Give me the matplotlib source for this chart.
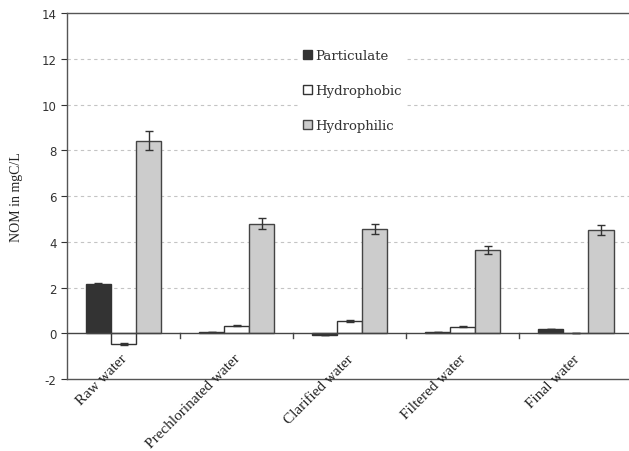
import numpy as np
import matplotlib.pyplot as plt

plt.rcParams["axes.unicode_minus"] = False

categories = ["Raw water", "Prechlorinated water", "Clarified water", "Filtered water", "Final water"]
particulate = [2.14, 0.06, -0.05, 0.07, 0.19]
particulate_err = [0.07, 0.0, 0.0, 0.0, 0.0]
hydrophobic = [-0.46, 0.34, 0.54, 0.29, 0.03]
hydrophobic_err = [0.03, 0.03, 0.03, 0.03, 0.0]
hydrophilic = [8.42, 4.8, 4.55, 3.64, 4.52]
hydrophilic_err = [0.42, 0.25, 0.22, 0.18, 0.22]

fig = plt.figure(figsize=(6.29, 4.52), dpi=100)
ax = fig.add_axes([0.1065, 0.159, 0.899, 0.81])

x = np.arange(len(categories))
w = 0.222
ek = dict(ecolor="#333333", elinewidth=1, capsize=3, capthick=1)
ax.bar(x - w, particulate, w, yerr=particulate_err, color="#333333",
       edgecolor="#333333", linewidth=1, label="Particulate", error_kw=ek, zorder=3)
ax.bar(x, hydrophobic, w, yerr=hydrophobic_err, color="white",
       edgecolor="#333333", linewidth=1, label="Hydrophobic", error_kw=ek, zorder=3)
ax.bar(x + w, hydrophilic, w, yerr=hydrophilic_err, color="#cccccc",
       edgecolor="#444444", linewidth=1, label="Hydrophilic", error_kw=ek, zorder=3)

ax.set_xlim(-0.5, len(categories) - 0.5)
ax.set_ylim(-2, 14)
ax.set_yticks(range(-2, 15, 2))
ax.tick_params(axis="y", direction="out", length=4, labelsize=8.5,
               colors="#333333", labelcolor="#333333")
for v in range(2, 14, 2):
    ax.axhline(v, color="#c4c4c4", linestyle=(0, (3, 3)), linewidth=0.8, zorder=1)

# category axis crosses at zero, boundary ticks hang below it
ax.axhline(0, color="#444444", linewidth=1, zorder=4)
for b in np.arange(0.5, len(categories) - 0.5, 1):
    ax.plot([b, b], [0, -0.2], color="#444444", linewidth=1, zorder=4, clip_on=False)

# category labels sit just under the zero axis (they run across the -2 border)
ax.set_xticks([])
for i, name in enumerate(categories):
    ax.text(i - 0.03, -0.8, name, rotation=45, ha="right", va="top",
            rotation_mode="anchor", family="Liberation Serif", fontsize=11,
            color="#222222", zorder=5)

for s in ["left", "bottom", "top"]:
    ax.spines[s].set_color("#555555")
    ax.spines[s].set_linewidth(1)
ax.spines["right"].set_visible(False)

ax.set_ylabel("NOM in mgC/L", family="Liberation Serif", fontsize=10, color="#222222")
ax.yaxis.set_label_coords(-0.078, 0.5)

leg = ax.legend(loc="upper left", bbox_to_anchor=(0.399, 0.93), frameon=True,
                prop={"family": "DejaVu Serif", "size": 9.5}, handlelength=0.7,
                handleheight=0.7, handletextpad=0.2, labelspacing=1.65,
                borderpad=0.3)
leg.get_frame().set_edgecolor("white")
leg.get_frame().set_facecolor("white")
leg.get_frame().set_alpha(1)
for t in leg.get_texts():
    t.set_color("#333333")

fig.savefig("out.png", dpi=100)
